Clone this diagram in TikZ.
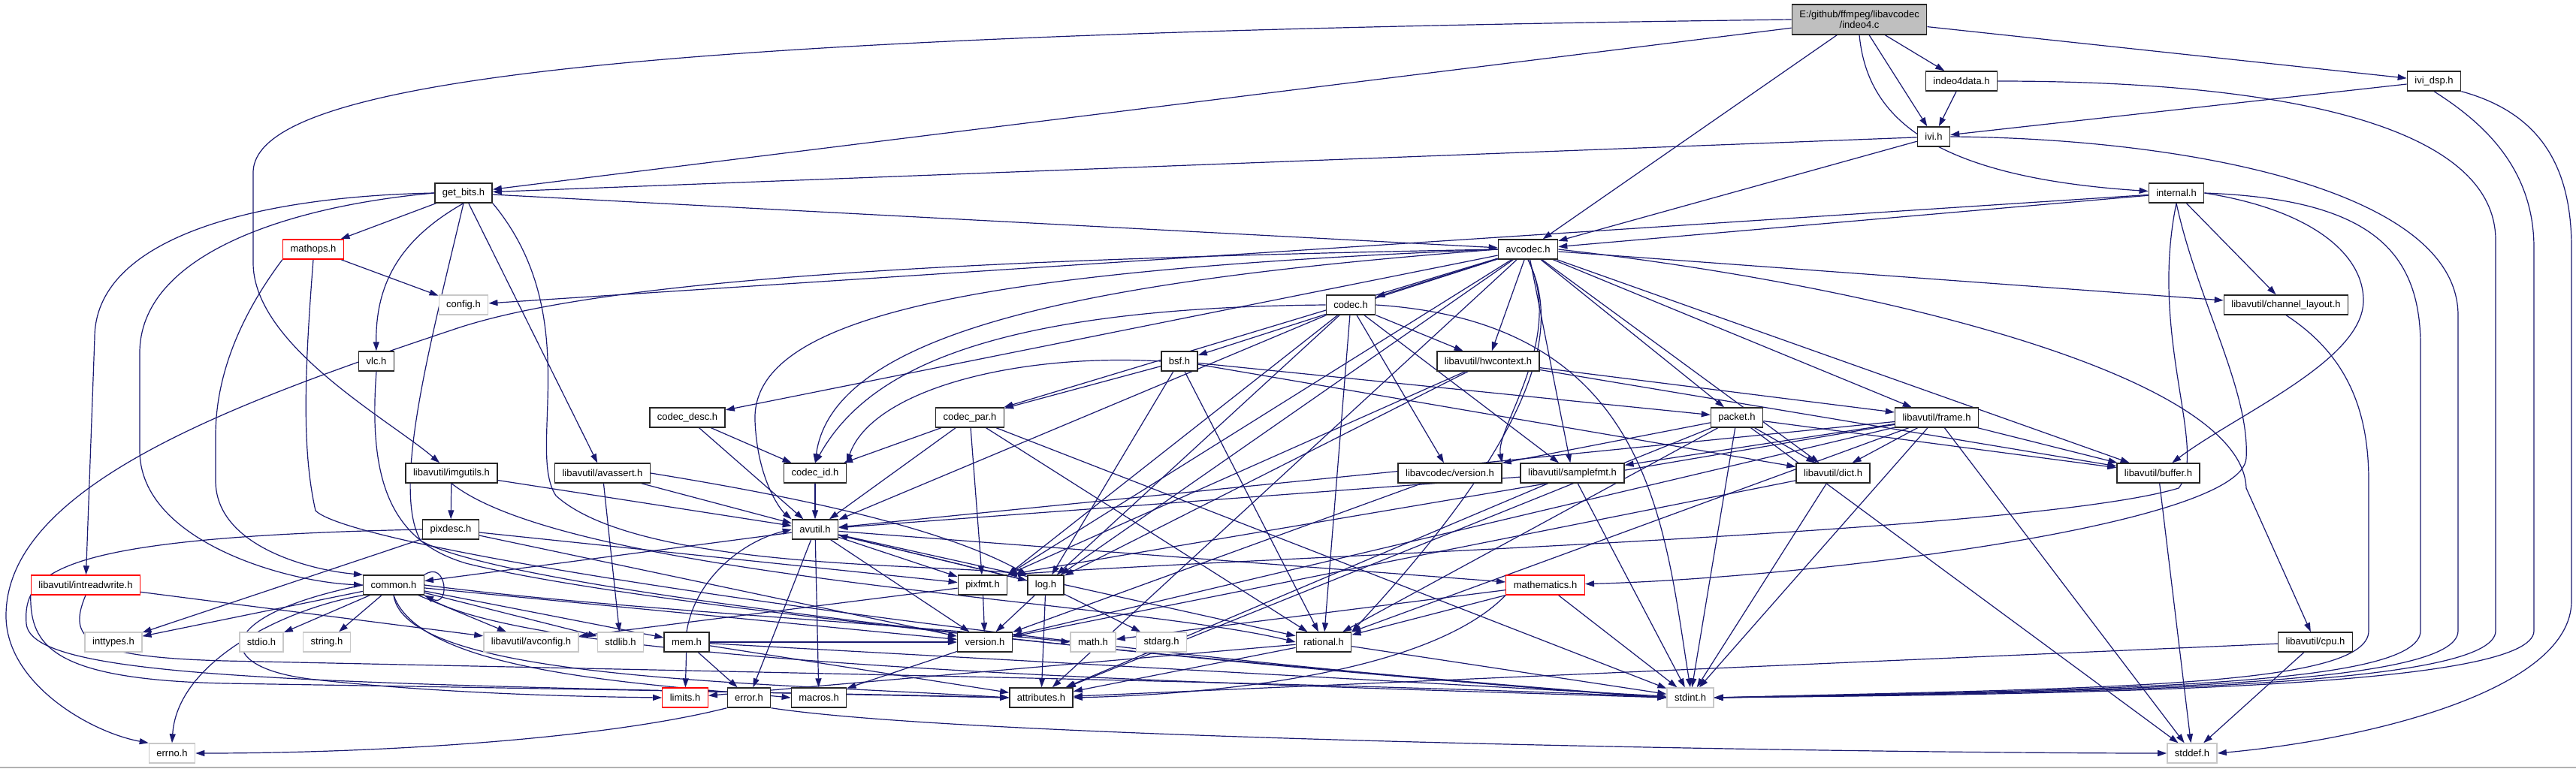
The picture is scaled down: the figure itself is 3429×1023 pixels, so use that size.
\documentclass[tikz,border=0pt]{standalone}
\usepackage{fontspec}
\setmainfont{Liberation Sans}
\usetikzlibrary{arrows.meta, backgrounds}
\definecolor{kante}{HTML}{191970}
\definecolor{quelle}{HTML}{BFBFBF}
\definecolor{sysgrau}{HTML}{C8C8C8}

\begin{document}
\begin{tikzpicture}[x=1pt, y=-1pt,
    hdr/.style={draw=black!85, line width=1.4pt, fill=white, minimum height=26pt,
                inner xsep=10pt, inner ysep=2pt, font=\fontsize{13}{15}\selectfont},
    syshdr/.style={hdr, draw=sysgrau},
    trunc/.style={hdr, draw=red},
    dep/.style={-{Triangle[length=12pt, width=8pt]}, draw=kante, line width=1.2pt}
  ]
  \useasboundingbox (0,0) rectangle (3429,1023);

  % Dateien, Zeile fuer Zeile
  \node[hdr, fill=quelle, align=center, minimum width=179pt, minimum height=40pt,
        inner ysep=1pt, font=\fontsize{13}{14}\selectfont] (src) at (2475,26)
        {E:/github/ffmpeg/libavcodec\\/indeo4.c};
  \node[hdr] (i4d) at (2611,108) {indeo4data.h};
  \node[hdr] (dsp) at (3240,108) {ivi\_dsp.h};
  \node[hdr] (ivi) at (2574,182) {ivi.h};

  \node[hdr] (gb) at (617,257) {get\_bits.h};
  \node[hdr] (intl) at (2897,257) {internal.h};

  \node[trunc] (mops) at (417,332) {mathops.h};
  \node[hdr] (avc) at (2034,332) {avcodec.h};

  \node[syshdr] (cfg) at (617,406) {config.h};
  \node[hdr] (cdc) at (1798,406) {codec.h};
  \node[hdr] (chl) at (3043,406) {libavutil/channel\_layout.h};

  \node[hdr] (vlc) at (501,481) {vlc.h};
  \node[hdr] (bsf) at (1570,481) {bsf.h};
  \node[hdr] (hwc) at (1981,481) {libavutil/hwcontext.h};

  \node[hdr] (cdesc) at (915,556) {codec\_desc.h};
  \node[hdr] (cpar) at (1291,556) {codec\_par.h};
  \node[hdr] (pkt) at (2312,556) {packet.h};
  \node[hdr] (frm) at (2578,556) {libavutil/frame.h};

  \node[hdr] (img) at (601,630) {libavutil/imgutils.h};
  \node[hdr] (asrt) at (802,630) {libavutil/avassert.h};
  \node[hdr] (cid) at (1085,630) {codec\_id.h};
  \node[hdr] (lcver) at (1930,630) {libavcodec/version.h};
  \node[hdr] (sfmt) at (2093,630) {libavutil/samplefmt.h};
  \node[hdr] (dict) at (2440,630) {libavutil/dict.h};
  \node[hdr] (buf) at (2873,630) {libavutil/buffer.h};

  \node[hdr] (pdesc) at (600,705) {pixdesc.h};
  \node[hdr] (avu) at (1085,705) {avutil.h};

  \node[trunc] (irw) at (114,779) {libavutil/intreadwrite.h};
  \node[hdr] (cmn) at (524,779) {common.h};
  \node[hdr] (pfmt) at (1308,779) {pixfmt.h};
  \node[hdr] (log) at (1392,779) {log.h};
  \node[trunc] (mth) at (2057,779) {mathematics.h};

  \node[syshdr] (intt) at (151,855) {inttypes.h};
  \node[syshdr] (stdio) at (348,855) {stdio.h};
  \node[syshdr] (strh) at (435,855) {string.h};
  \node[syshdr] (avcfg) at (707,855) {libavutil/avconfig.h};
  \node[syshdr] (stdlib) at (826,855) {stdlib.h};
  \node[hdr] (mem) at (914,855) {mem.h};
  \node[hdr] (ver) at (1311,855) {version.h};
  \node[syshdr] (mathh) at (1455,855) {math.h};
  \node[syshdr] (stdarg) at (1546,855) {stdarg.h};
  \node[hdr] (rat) at (1762,855) {rational.h};
  \node[hdr] (cpu) at (3082,855) {libavutil/cpu.h};

  \node[trunc] (lim) at (912,929) {limits.h};
  \node[hdr] (err) at (997,929) {error.h};
  \node[hdr] (mac) at (1090,929) {macros.h};
  \node[hdr] (attr) at (1386,929) {attributes.h};
  \node[syshdr] (sint) at (2250,929) {stdint.h};

  \node[syshdr] (errno) at (229,1003) {errno.h};
  \node[syshdr] (sdef) at (2918,1003) {stddef.h};

  \begin{scope}[on background layer]
  \fill[white] (0,0) rectangle (3429,1023);
  \draw[black!30, line width=2pt] (0,1022) -- (3429,1022);

  % indeo4.c
  \draw[dep] (src) -- (gb);
  \draw[dep] (src.west) .. controls (900,45) and (337,100) .. (337,230) -- (337,350) .. controls (337,460) and (520,560) .. (img);
  \draw[dep] (src) -- (avc);
  \draw[dep] (src) -- (i4d);
  \draw[dep] (src) -- (ivi);
  \draw[dep] (src.south) .. controls (2485,150) and (2560,235) .. (intl);
  \draw[dep] (src) -- (dsp);

  % indeo4data.h, ivi_dsp.h, ivi.h
  \draw[dep] (i4d) -- (ivi);
  \draw[dep] (i4d.east) .. controls (3050,108) and (3322,170) .. (3322,320) -- (3322,840) .. controls (3322,915) and (2800,922) .. (sint.east);
  \draw[dep] (dsp) -- (ivi);
  \draw[dep] (dsp.south) .. controls (3300,160) and (3373,220) .. (3373,330) -- (3373,840) .. controls (3373,915) and (2800,924) .. (sint.east);
  \draw[dep] (dsp.south east) .. controls (3380,150) and (3423,220) .. (3423,330) -- (3423,800) .. controls (3423,920) and (3150,985) .. (sdef.east);
  \draw[dep] (ivi) -- (gb);
  \draw[dep] (ivi) -- (avc);
  \draw[dep] (ivi.east) .. controls (2900,184) and (3272,250) .. (3272,420) -- (3272,840) .. controls (3272,915) and (2800,920) .. (sint.east);

  % internal.h
  \draw[dep] (intl) -- (avc);
  \draw[dep] (intl) -- (cfg);
  \draw[dep] (intl) -- (chl);
  \draw[dep] (intl.east) .. controls (3080,280) and (3146,340) .. (3146,400) .. controls (3146,480) and (2980,550) .. (buf);
  \draw[dep] (intl.south) .. controls (2925,400) and (2995,520) .. (2990,610) .. controls (2985,700) and (2400,770) .. (mth);
  \draw[dep] (intl.south) .. controls (2860,450) and (2940,600) .. (2900,650) .. controls (2700,710) and (1700,740) .. (pfmt.north east);
  \draw[dep] (intl.east) .. controls (3150,265) and (3222,330) .. (3222,460) -- (3222,840) .. controls (3222,915) and (2800,918) .. (sint.east);

  % get_bits.h
  \draw[dep] (gb.west) .. controls (330,262) and (126,320) .. (126,450) -- (irw);
  \draw[dep] (gb.west) .. controls (380,275) and (186,340) .. (186,470) -- (186,600) .. controls (186,720) and (380,775) .. (cmn.west);
  \draw[dep] (gb) -- (mops);
  \draw[dep] (gb.south) .. controls (530,320) and (500,380) .. (vlc);
  \draw[dep] (gb.south) .. controls (575,450) and (520,650) .. (560,720) .. controls (700,800) and (1800,900) .. (sint.west);
  \draw[dep] (gb) -- (asrt);
  \draw[dep] (gb.south east) .. controls (780,420) and (700,600) .. (740,660) .. controls (850,760) and (1250,750) .. (log.north west);
  \draw[dep] (gb) -- (avc);

  % mathops.h, vlc.h
  \draw[dep] (mops) -- (cfg);
  \draw[dep] (mops.south west) .. controls (320,420) and (287,500) .. (287,580) -- (287,640) .. controls (287,730) and (420,760) .. (cmn.north west);
  \draw[dep] (mops.south) .. controls (405,500) and (402,600) .. (420,680) .. controls (480,740) and (1500,880) .. (sint.west);
  \draw[dep] (vlc.south) .. controls (490,640) and (520,720) .. (620,750) .. controls (900,820) and (1900,905) .. (sint.west);

  % avcodec.h
  \draw[dep] (avc.west) .. controls (1300,345) and (800,370) .. (600,440) .. controls (300,540) and (8,650) .. (8,820) .. controls (8,910) and (120,975) .. (errno.north west);
  \draw[dep] (avc) -- (sfmt);
  \draw[dep] (avc) -- (attr);
  \draw[dep] (avc.west) .. controls (1300,360) and (1000,420) .. (1005,560) .. controls (1008,640) and (1040,680) .. (avu.north west);
  \draw[dep] (avc) -- (buf);
  \draw[dep] (avc.east) .. controls (2500,380) and (2985,500) .. (2990,650) -- (cpu);
  \draw[dep] (avc) -- (chl);
  \draw[dep] (avc) -- (dict);
  \draw[dep] (avc) -- (frm);
  \draw[dep] (avc) -- (hwc);
  \draw[dep] (avc) -- (log);
  \draw[dep] (avc) -- (pfmt.north east);
  \draw[dep] (avc.south) .. controls (2075,430) and (2060,560) .. (rat.north east);
  \draw[dep] (avc) -- (bsf);
  \draw[dep] (avc) -- (cdc);
  \draw[dep] (avc) -- (cdesc);
  \draw[dep] (avc) -- (cpar);
  \draw[dep] (avc.west) .. controls (1500,370) and (1110,430) .. (cid.north);
  \draw[dep] (avc) -- (pkt);
  \draw[dep] (avc.south) .. controls (2085,450) and (1990,570) .. (lcver.north east);

  % codec.h
  \draw[dep] (cdc.east) .. controls (2200,430) and (2215,700) .. (sint.north);
  \draw[dep] (cdc) -- (avu);
  \draw[dep] (cdc) -- (hwc);
  \draw[dep] (cdc) -- (log);
  \draw[dep] (cdc) -- (pfmt.north east);
  \draw[dep] (cdc) -- (rat);
  \draw[dep] (cdc) -- (sfmt);
  \draw[dep] (cdc.west) .. controls (1300,410) and (1150,500) .. (cid.north);
  \draw[dep] (cdc) -- (lcver);

  % bsf.h
  \draw[dep] (bsf) -- (dict);
  \draw[dep] (bsf) -- (log);
  \draw[dep] (bsf) -- (rat);
  \draw[dep] (bsf.west) .. controls (1350,470) and (1160,520) .. (cid.north east);
  \draw[dep] (bsf) -- (cpar);
  \draw[dep] (bsf) -- (pkt);

  % codec_desc.h, codec_par.h, codec_id.h
  \draw[dep] (cdesc) -- (avu);
  \draw[dep] (cdesc) -- (cid);
  \draw[dep] (cpar) -- (sint);
  \draw[dep] (cpar) -- (avu);
  \draw[dep] (cpar) -- (rat);
  \draw[dep] (cpar) -- (pfmt);
  \draw[dep] (cpar) -- (cid);
  \draw[dep] (cid) -- (avu);

  % packet.h, libavcodec/version.h
  \draw[dep] (pkt) -- (sdef);
  \draw[dep] (pkt) -- (sint);
  \draw[dep] (pkt) -- (attr);
  \draw[dep] (pkt) -- (buf);
  \draw[dep] (pkt) -- (dict);
  \draw[dep] (pkt) -- (rat);
  \draw[dep] (pkt) -- (lcver);
  \draw[dep] (lcver) -- (ver);

  % libavutil/hwcontext.h, libavutil/frame.h
  \draw[dep] (hwc) -- (buf);
  \draw[dep] (hwc) -- (frm);
  \draw[dep] (hwc) -- (log);
  \draw[dep] (hwc) -- (pfmt.north east);
  \draw[dep] (frm) -- (sdef);
  \draw[dep] (frm) -- (sint);
  \draw[dep] (frm) -- (avu);
  \draw[dep] (frm) -- (buf);
  \draw[dep] (frm) -- (dict);
  \draw[dep] (frm) -- (rat);
  \draw[dep] (frm) -- (sfmt);
  \draw[dep] (frm) -- (pfmt.north east);
  \draw[dep] (frm) -- (ver);

  % dict, buffer, samplefmt, channel_layout, cpu
  \draw[dep] (dict) -- (sint);
  \draw[dep] (dict) -- (ver);
  \draw[dep] (buf) -- (sdef);
  \draw[dep] (sfmt) -- (sint);
  \draw[dep] (sfmt) -- (avu);
  \draw[dep] (sfmt) -- (attr);
  \draw[dep] (chl.south) .. controls (3120,470) and (3153,540) .. (3153,640) -- (3153,840) .. controls (3153,915) and (2800,916) .. (sint.east);
  \draw[dep] (cpu) -- (sdef);
  \draw[dep] (cpu) -- (attr);

  % avutil.h
  \draw[dep] (avu) -- (cmn);
  \draw[dep] (avu) -- (err);
  \draw[dep] (avu) -- (rat);
  \draw[dep] (avu) -- (ver);
  \draw[dep] (avu) -- (mac);
  \draw[dep] (avu) -- (mth);
  \draw[dep] (avu) -- (log);
  \draw[dep] (avu) -- (pfmt);

  % common.h
  \draw[dep] (cmn.south west) .. controls (380,810) and (236,880) .. (errno.north);
  \draw[dep] (cmn) -- (intt);
  \draw[dep] (cmn.west) .. controls (280,820) and (280,890) .. (420,905) .. controls (600,925) and (800,928) .. (lim.west);
  \draw[dep] (cmn.east) .. controls (800,810) and (1200,830) .. (mathh.west);
  \draw[dep] (cmn.south east) .. controls (700,890) and (1700,912) .. (sint.west);
  \draw[dep] (cmn) -- (stdio);
  \draw[dep] (cmn) -- (stdlib);
  \draw[dep] (cmn) -- (strh);
  \draw[dep] (cmn.south) .. controls (540,905) and (1000,908) .. (attr.west);
  \draw[dep] (cmn.south) .. controls (560,895) and (850,910) .. (mac.west);
  \draw[dep] (cmn) -- (ver);
  \draw[dep] (cmn) -- (avcfg);
  \draw[dep] (cmn) -- (mem);
  \draw[dep] (cmn.north east) .. controls (595,745) and (600,810) .. (cmn.south east);

  % mem.h
  \draw[dep] (mem) -- (lim);
  \draw[dep] (mem) -- (sint);
  \draw[dep] (mem) -- (attr);
  \draw[dep] (mem) -- (err);
  \draw[dep] (mem.north) .. controls (925,770) and (990,720) .. (avu.west);
  \draw[dep] (mem) -- (ver);

  % log.h, pixfmt.h, version.h
  \draw[dep] (log) -- (stdarg);
  \draw[dep] (log) -- (avu);
  \draw[dep] (log) -- (attr);
  \draw[dep] (log) -- (ver);
  \draw[dep] (pfmt) -- (avcfg);
  \draw[dep] (pfmt) -- (ver);
  \draw[dep] (ver) -- (mac);

  % rational.h, mathematics.h
  \draw[dep] (rat) -- (sint);
  \draw[dep] (rat) -- (lim);
  \draw[dep] (rat) -- (attr);
  \draw[dep] (mth) -- (sint);
  \draw[dep] (mth) -- (mathh);
  \draw[dep] (mth.south west) .. controls (1900,900) and (1600,925) .. (attr.east);
  \draw[dep] (mth) -- (rat);

  % error.h
  \draw[dep] (err.south west) .. controls (800,985) and (500,1003) .. (errno.east);
  \draw[dep] (err.south east) .. controls (1300,985) and (2500,1003) .. (sdef.west);

  % imgutils, pixdesc, avassert, intreadwrite
  \draw[dep] (img) -- (avu);
  \draw[dep] (img) -- (pdesc);
  \draw[dep] (img.south) .. controls (760,770) and (1500,800) .. (rat.west);
  \draw[dep] (pdesc) -- (intt);
  \draw[dep] (pdesc.west) .. controls (80,715) and (30,760) .. (35,830) .. controls (40,905) and (400,910) .. (attr.west);
  \draw[dep] (pdesc) -- (pfmt);
  \draw[dep] (pdesc) -- (ver);
  \draw[dep] (asrt) -- (stdlib);
  \draw[dep] (asrt) -- (avu);
  \draw[dep] (asrt.east) .. controls (1050,660) and (1250,700) .. (log.north west);
  \draw[dep] (irw) -- (avcfg);
  \draw[dep] (irw.south west) .. controls (40,860) and (70,905) .. (300,910) .. controls (800,918) and (1200,925) .. (attr.west);
  \draw[dep] (irw.south) .. controls (90,850) and (110,875) .. (300,880) .. controls (1000,895) and (1900,912) .. (sint.west);
  \end{scope}
\end{tikzpicture}
\end{document}
